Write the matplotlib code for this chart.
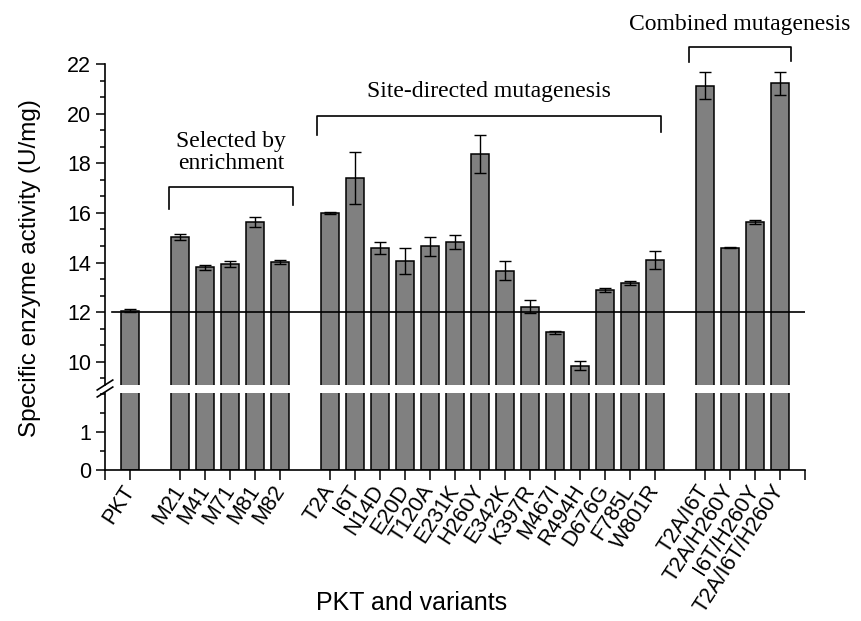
import matplotlib
matplotlib.use('Agg')
import matplotlib.pyplot as plt
from matplotlib.lines import Line2D
from matplotlib.ticker import MultipleLocator

# Data
labels_pkt = ['PKT']
labels_sel = ['M21', 'M41', 'M71', 'M81', 'M82']
labels_site = ['T2A', 'I6T', 'N14D', 'E20D', 'T120A', 'E231K', 'H260Y', 'E342K',
               'K397R', 'M467I', 'R494H', 'D676G', 'F785L', 'W801R']
labels_comb = ['T2A/I6T', 'T2A/H260Y', 'I6T/H260Y', 'T2A/I6T/H260Y']

val_pkt = [12.07]
val_sel = [15.05, 13.82, 13.93, 15.62, 14.02]
val_site = [16.0, 17.4, 14.6, 14.07, 14.65, 14.83, 18.37, 13.68,
            12.23, 11.2, 9.85, 12.9, 13.16, 14.12]
val_comb = [21.13, 14.6, 15.62, 21.22]

err_pkt = [0.05]
err_sel = [0.12, 0.1, 0.12, 0.2, 0.07]
err_site = [0.04, 1.04, 0.25, 0.53, 0.4, 0.29, 0.75, 0.4,
            0.27, 0.06, 0.17, 0.07, 0.08, 0.36]
err_comb = [0.53, 0.03, 0.08, 0.45]

wt_level = 12

# posisi bar: satu slot kosong antar grup
groups = [labels_pkt, labels_sel, labels_site, labels_comb]
positions = []
start = 1
for g in groups:
    positions.append(list(range(start, start + len(g))))
    start += len(g) + 1
x = sum(positions, [])
labels = labels_pkt + labels_sel + labels_site + labels_comb
values = val_pkt + val_sel + val_site + val_comb
errors = err_pkt + err_sel + err_site + err_comb
xmax = start - 1

fig = plt.figure(figsize=(8.62, 6.21), dpi=100)
ax_top = fig.add_axes([0.1218, 0.380, 0.812, 0.517])
ax_bot = fig.add_axes([0.1218, 0.243, 0.812, 0.124])

for ax in (ax_top, ax_bot):
    ax.bar(x, values, width=0.7, color='#808080', edgecolor='black', linewidth=1.1)
    ax.set_xlim(0, xmax)
    ax.spines['top'].set_visible(False)
    ax.spines['right'].set_visible(False)
    ax.spines['left'].set_linewidth(1.2)
    ax.spines['bottom'].set_linewidth(1.2)
    ax.tick_params(axis='y', which='major', length=6.5, width=1.1, labelsize=15.5)
    ax.tick_params(axis='y', which='minor', length=3.5, width=1.1)
    for t in ax.get_yticklabels():
        t.set_family('Liberation Sans')

ax_top.errorbar(x, values, yerr=errors, fmt='none', ecolor='black',
                elinewidth=1, capsize=4.5, capthick=1)
ax_top.axhline(wt_level, color='black', linewidth=1.2, xmin=0.01)

# sumbu atas: 9 - 22
ax_top.set_ylim(9.07, 22)
ax_top.yaxis.set_minor_locator(MultipleLocator(2 / 3))
ax_top.set_yticks([10, 12, 14, 16, 18, 20, 22])
ax_top.spines['bottom'].set_visible(False)
ax_top.tick_params(axis='x', which='both', bottom=False, labelbottom=False)

# sumbu bawah: 0 - 2
ax_bot.set_ylim(0, 2.03)
ax_bot.set_yticks([0, 1])
ax_bot.yaxis.set_minor_locator(MultipleLocator(0.5))
ax_bot.set_xticks([0] + x + [xmax])
ax_bot.set_xticklabels([''] + labels + [''], rotation=57, ha='right',
                       va='center', rotation_mode='anchor',
                       fontsize=15.5, family='Liberation Sans')
ax_bot.tick_params(axis='x', length=7, width=1.1, pad=5)

# tanda patah sumbu
for yc in (385, 392):
    yf = 1 - yc / 621
    fig.add_artist(Line2D([0.1218 - 0.009, 0.1218 + 0.009], [yf - 0.008, yf + 0.008],
                          color='black', linewidth=1.2, transform=fig.transFigure))


# kurung kelompok
def bracket(x0, x1, y, drop_l, drop_r, text, ty):
    ax_top.plot([x0, x0, x1, x1], [y - drop_l, y, y, y - drop_r],
                color='black', linewidth=1.2, clip_on=False)
    ax_top.text((x0 + x1) / 2, ty, text, ha='center', va='center', fontsize=17,
                family='Liberation Serif', linespacing=1.05, clip_on=False)


bracket(2.56, 7.52, 17.04, 0.9, 0.7, 'Selected by\nenrichment', 18.45)
bracket(8.48, 22.24, 19.89, 0.77, 0.65, 'Site-directed mutagenesis', 20.9)
bracket(23.36, 27.44, 22.68, 0.62, 0.58, 'Combined mutagenesis', 23.6)

fig.text(0.035, 0.568, 'Specific enzyme activity (U/mg)', rotation=90,
         ha='center', va='center', fontsize=17.5, family='Liberation Sans')
fig.text(0.477, 0.029, 'PKT and variants', ha='center', va='center',
         fontsize=18, family='Liberation Sans')

plt.savefig('out.png', dpi=100)
